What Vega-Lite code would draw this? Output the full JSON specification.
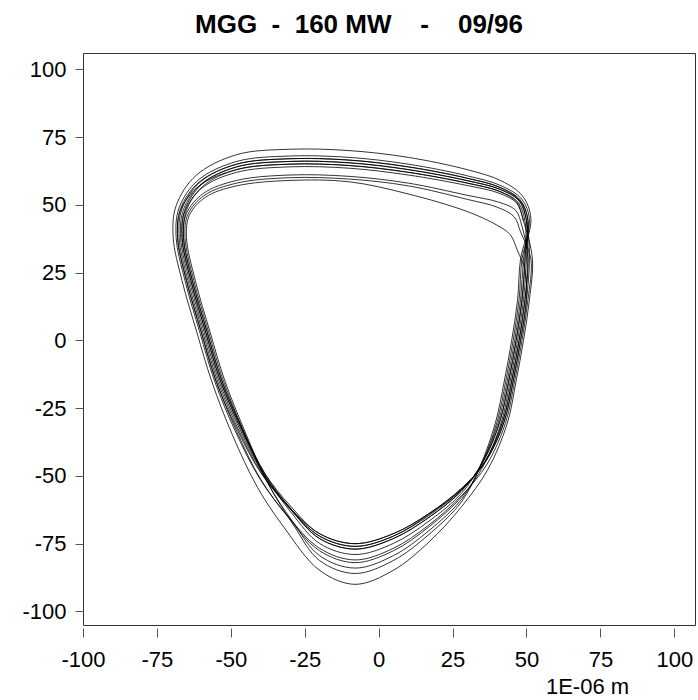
{
"$schema": "https://vega.github.io/schema/vega-lite/v6.json",
"width": 612,
"height": 572,
"autosize": {"type": "none"},
"padding": {"left": 83, "top": 53, "right": 3, "bottom": 75},
"background": "white",
"title": {"text": "MGG\u00a0\u00a0-\u00a0\u00a0160 MW\u00a0\u00a0\u00a0\u00a0-\u00a0\u00a0\u00a0\u00a009/96", "font": "Liberation Sans", "fontSize": 26, "fontWeight": "bold", "color": "black", "anchor": "middle", "dx": -30, "dy": 26, "offset": 20, "baseline": "alphabetic"},
"config": {"view": {"stroke": "#333", "strokeWidth": 1}},
"data": {"values": [
{"t":100,"x":50,"y":44.2},
{"t":102,"x":50.5,"y":30},{"t":103,"x":49.5,"y":15},{"t":104,"x":47.5,"y":0},{"t":105,"x":45,"y":-15},{"t":106,"x":42,"y":-29.9},{"t":107,"x":36,"y":-44.6},{"t":108,"x":28,"y":-55.1},{"t":109,"x":17,"y":-64.6},{"t":110,"x":5,"y":-72.2},{"t":111,"x":-8,"y":-76},{"t":112,"x":-20,"y":-72.2},{"t":113,"x":-30,"y":-61.8},{"t":114,"x":-39,"y":-49.3},{"t":115,"x":-47,"y":-32.7},{"t":116,"x":-54,"y":-15},{"t":117,"x":-59,"y":3},{"t":118,"x":-64,"y":22},{"t":119,"x":-67,"y":38},{"t":120,"x":-66,"y":48.3},{"t":121,"x":-60,"y":57.7},{"t":122,"x":-48,"y":64},{"t":123,"x":-30,"y":66},{"t":124,"x":-10,"y":65.5},{"t":125,"x":10,"y":63},{"t":126,"x":30,"y":58.9},{"t":127,"x":41,"y":55.7},{"t":128,"x":47.5,"y":51.4},{"t":129,"x":50,"y":44.15},
{"t":202,"x":51,"y":30},{"t":203,"x":50,"y":15},{"t":204,"x":48,"y":0},{"t":205,"x":45.5,"y":-15},{"t":206,"x":42.5,"y":-29.85},{"t":207,"x":36.35,"y":-44.4},{"t":208,"x":28,"y":-54.65},{"t":209,"x":17,"y":-63.9},{"t":210,"x":5,"y":-71.3},{"t":211,"x":-8,"y":-75},{"t":212,"x":-20,"y":-71.3},{"t":213,"x":-30.5,"y":-61.2},{"t":214,"x":-39.8,"y":-48.95},{"t":215,"x":-48,"y":-32.55},{"t":216,"x":-55,"y":-15},{"t":217,"x":-60,"y":3},{"t":218,"x":-65,"y":22},{"t":219,"x":-68,"y":38},{"t":220,"x":-67,"y":48.6},{"t":221,"x":-60.7,"y":58.4},{"t":222,"x":-48,"y":65},{"t":223,"x":-30,"y":67},{"t":224,"x":-10,"y":66.5},{"t":225,"x":10,"y":64},{"t":226,"x":30,"y":59.8},{"t":227,"x":41.15,"y":56.4},{"t":228,"x":47.9,"y":51.8},{"t":229,"x":50.5,"y":44.3},
{"t":302,"x":49.5,"y":30},{"t":303,"x":48.5,"y":15},{"t":304,"x":46.5,"y":0},{"t":305,"x":44,"y":-15},{"t":306,"x":41,"y":-29.95},{"t":307,"x":35.3,"y":-44.8},{"t":308,"x":28,"y":-55.55},{"t":309,"x":17,"y":-65.3},{"t":310,"x":5,"y":-73.1},{"t":311,"x":-8,"y":-77},{"t":312,"x":-20,"y":-73.1},{"t":313,"x":-29.5,"y":-62.4},{"t":314,"x":-38.2,"y":-49.65},{"t":315,"x":-46,"y":-32.85},{"t":316,"x":-53,"y":-15},{"t":317,"x":-58,"y":3},{"t":318,"x":-63,"y":22},{"t":319,"x":-66,"y":38},{"t":320,"x":-65,"y":48},{"t":321,"x":-59.3,"y":57},{"t":322,"x":-48,"y":63},{"t":323,"x":-30,"y":65},{"t":324,"x":-10,"y":64.5},{"t":325,"x":10,"y":62},{"t":326,"x":30,"y":58},{"t":327,"x":40.7,"y":55},{"t":328,"x":46.7,"y":51},{"t":329,"x":49,"y":44},
{"t":402,"x":52,"y":30},{"t":403,"x":51,"y":15},{"t":404,"x":49,"y":0},{"t":405,"x":46.5,"y":-15},{"t":406,"x":43.5,"y":-30.6},{"t":407,"x":37.05,"y":-47.4},{"t":408,"x":28,"y":-61.4},{"t":409,"x":17,"y":-74.4},{"t":410,"x":5,"y":-84.8},{"t":411,"x":-8,"y":-90},{"t":412,"x":-20,"y":-84.8},{"t":413,"x":-32,"y":-69},{"t":414,"x":-41,"y":-54.2},{"t":415,"x":-49.5,"y":-34.8},{"t":416,"x":-56.5,"y":-15},{"t":417,"x":-61.5,"y":3},{"t":418,"x":-66.5,"y":22},{"t":419,"x":-69.5,"y":38},{"t":420,"x":-68.5,"y":49.65},{"t":421,"x":-61.75,"y":60.85},{"t":422,"x":-48,"y":68.5},{"t":423,"x":-30,"y":70.5},{"t":424,"x":-10,"y":70},{"t":425,"x":10,"y":67.5},{"t":426,"x":30,"y":62.95},{"t":427,"x":41.45,"y":58.85},{"t":428,"x":48.7,"y":53.2},{"t":429,"x":51.5,"y":44.8},
{"t":502,"x":48.5,"y":30},{"t":503,"x":47.5,"y":15},{"t":504,"x":45.5,"y":0},{"t":505,"x":43,"y":-15},{"t":506,"x":40,"y":-30.3},{"t":507,"x":34.6,"y":-46.2},{"t":508,"x":28,"y":-58.7},{"t":509,"x":17,"y":-70.2},{"t":510,"x":5,"y":-79.4},{"t":511,"x":-8,"y":-84},{"t":512,"x":-20,"y":-79.4},{"t":513,"x":-29.25,"y":-66.6},{"t":514,"x":-37.8,"y":-52.1},{"t":515,"x":-45.5,"y":-33.9},{"t":516,"x":-52.5,"y":-15},{"t":517,"x":-57.5,"y":3},{"t":518,"x":-62.5,"y":22},{"t":519,"x":-65.5,"y":38},{"t":520,"x":-64.5,"y":46.5},{"t":521,"x":-58.95,"y":53.5},{"t":522,"x":-48,"y":58},{"t":523,"x":-30,"y":60},{"t":524,"x":-10,"y":59.5},{"t":525,"x":10,"y":57},{"t":526,"x":30,"y":52},{"t":527,"x":40.4,"y":49},{"t":528,"x":45.9,"y":45.5},{"t":529,"x":48,"y":40},
{"t":602,"x":51.5,"y":30},{"t":603,"x":50.5,"y":15},{"t":604,"x":48.5,"y":0},{"t":605,"x":46,"y":-15},{"t":606,"x":43,"y":-30.15},{"t":607,"x":36.7,"y":-45.6},{"t":608,"x":28,"y":-57.35},{"t":609,"x":17,"y":-68.1},{"t":610,"x":5,"y":-76.7},{"t":611,"x":-8,"y":-81},{"t":612,"x":-20,"y":-76.7},{"t":613,"x":-30.75,"y":-64.8},{"t":614,"x":-40.2,"y":-51.05},{"t":615,"x":-48.5,"y":-33.45},{"t":616,"x":-55.5,"y":-15},{"t":617,"x":-60.5,"y":3},{"t":618,"x":-65.5,"y":22},{"t":619,"x":-68.5,"y":38},{"t":620,"x":-67.5,"y":48.9},{"t":621,"x":-61.05,"y":59.1},{"t":622,"x":-48,"y":66},{"t":623,"x":-30,"y":68},{"t":624,"x":-10,"y":67.5},{"t":625,"x":10,"y":65},{"t":626,"x":30,"y":60.7},{"t":627,"x":41.3,"y":57.1},{"t":628,"x":48.3,"y":52.2},{"t":629,"x":51,"y":44.45},
{"t":702,"x":48,"y":30},{"t":703,"x":47,"y":15},{"t":704,"x":45,"y":0},{"t":705,"x":42.5,"y":-15},{"t":706,"x":39.5,"y":-30.4},{"t":707,"x":34.25,"y":-46.6},{"t":708,"x":28,"y":-59.6},{"t":709,"x":17,"y":-71.6},{"t":710,"x":5,"y":-81.2},{"t":711,"x":-8,"y":-86},{"t":712,"x":-20,"y":-81.2},{"t":713,"x":-29,"y":-67.8},{"t":714,"x":-37.4,"y":-52.8},{"t":715,"x":-45,"y":-34.2},{"t":716,"x":-52,"y":-15},{"t":717,"x":-57,"y":3},{"t":718,"x":-62,"y":22},{"t":719,"x":-65,"y":38},{"t":720,"x":-64,"y":46.2},{"t":721,"x":-58.6,"y":52.8},{"t":722,"x":-48,"y":57},{"t":723,"x":-30,"y":59},{"t":724,"x":-10,"y":58.5},{"t":725,"x":10,"y":54},{"t":726,"x":30,"y":47.5},{"t":727,"x":40,"y":42.5},{"t":728,"x":44.5,"y":39},{"t":729,"x":47,"y":33},
{"t":802,"x":49.5,"y":26},{"t":803,"x":50,"y":15},{"t":804,"x":48,"y":0},{"t":805,"x":45.5,"y":-15},{"t":806,"x":42.5,"y":-29.85},{"t":807,"x":36.35,"y":-44.4},{"t":808,"x":28,"y":-54.65},{"t":809,"x":17,"y":-63.9},{"t":810,"x":5,"y":-71.3},{"t":811,"x":-8,"y":-75},{"t":812,"x":-20,"y":-71.3},{"t":813,"x":-29.75,"y":-61.2},{"t":814,"x":-38.6,"y":-48.95},{"t":815,"x":-46.5,"y":-32.55},{"t":816,"x":-53.5,"y":-15},{"t":817,"x":-58.5,"y":3},{"t":818,"x":-63.5,"y":22},{"t":819,"x":-66.5,"y":38},{"t":820,"x":-65.5,"y":48.3},{"t":821,"x":-59.65,"y":57.7},{"t":822,"x":-48,"y":64},{"t":823,"x":-30,"y":66},{"t":824,"x":-10,"y":65.5},{"t":825,"x":10,"y":63},{"t":826,"x":30,"y":58.9},{"t":827,"x":41.15,"y":55.7},{"t":828,"x":47.9,"y":51.4},{"t":829,"x":50.5,"y":44.15},
{"t":902,"x":49,"y":30},{"t":903,"x":48,"y":15},{"t":904,"x":46,"y":0},{"t":905,"x":43.5,"y":-15},{"t":906,"x":40.5,"y":-30.05},{"t":907,"x":34.95,"y":-45.2},{"t":908,"x":28,"y":-56.45},{"t":909,"x":17,"y":-66.7},{"t":910,"x":5,"y":-74.9},{"t":911,"x":-8,"y":-79},{"t":912,"x":-20,"y":-74.9},{"t":913,"x":-29.5,"y":-63.6},{"t":914,"x":-38.2,"y":-50.35},{"t":915,"x":-46,"y":-33.15},{"t":916,"x":-53,"y":-15},{"t":917,"x":-58,"y":3},{"t":918,"x":-63,"y":22},{"t":919,"x":-66,"y":38},{"t":920,"x":-65,"y":46.8},{"t":921,"x":-59.3,"y":54.2},{"t":922,"x":-48,"y":59},{"t":923,"x":-30,"y":61},{"t":924,"x":-10,"y":60.5},{"t":925,"x":10,"y":58},{"t":926,"x":30,"y":53.5},{"t":927,"x":40.55,"y":51},{"t":928,"x":46.3,"y":48},{"t":929,"x":48.5,"y":42},
{"t":1002,"x":50.5,"y":30},{"t":1003,"x":49.5,"y":15},{"t":1004,"x":47.5,"y":0},{"t":1005,"x":45,"y":-15},{"t":1006,"x":42,"y":-29.9},{"t":1007,"x":36,"y":-44.6},{"t":1008,"x":28,"y":-55.1},{"t":1009,"x":17,"y":-64.2},{"t":1010,"x":5,"y":-72.2},{"t":1011,"x":-8,"y":-76},{"t":1012,"x":-20,"y":-72.2},{"t":1013,"x":-30.25,"y":-61.8},{"t":1014,"x":-39.4,"y":-49.3},{"t":1015,"x":-47.5,"y":-32.7},{"t":1016,"x":-54.5,"y":-15},{"t":1017,"x":-59.5,"y":3},{"t":1018,"x":-64.5,"y":22},{"t":1019,"x":-67.5,"y":38},{"t":1020,"x":-66.5,"y":48.6},{"t":1021,"x":-60.35,"y":58.4},{"t":1022,"x":-48,"y":65},{"t":1023,"x":-30,"y":67},{"t":1024,"x":-10,"y":66.5},{"t":1025,"x":10,"y":64},{"t":1026,"x":30,"y":59.8},{"t":1027,"x":41,"y":56.4},{"t":1028,"x":47.5,"y":51.8},{"t":1029,"x":50,"y":44.3},
{"t":1102,"x":50,"y":30},{"t":1103,"x":49,"y":15},{"t":1104,"x":47,"y":0},{"t":1105,"x":44.5,"y":-15},{"t":1106,"x":41.5,"y":-30.2},{"t":1107,"x":35.65,"y":-45.8},{"t":1108,"x":28,"y":-57.8},{"t":1109,"x":17,"y":-68.8},{"t":1110,"x":5,"y":-77.6},{"t":1111,"x":-8,"y":-82},{"t":1112,"x":-20,"y":-77.6},{"t":1113,"x":-30.5,"y":-65.4},{"t":1114,"x":-39.8,"y":-51.4},{"t":1115,"x":-48,"y":-33.6},{"t":1116,"x":-55,"y":-15},{"t":1117,"x":-60,"y":3},{"t":1118,"x":-65,"y":22},{"t":1119,"x":-68,"y":38},{"t":1120,"x":-67,"y":48},{"t":1121,"x":-60.7,"y":57},{"t":1122,"x":-48,"y":63},{"t":1123,"x":-30,"y":65},{"t":1124,"x":-10,"y":64.5},{"t":1125,"x":10,"y":62},{"t":1126,"x":30,"y":58},{"t":1127,"x":40.85,"y":55},{"t":1128,"x":47.1,"y":51},{"t":1129,"x":49.5,"y":44},
{"t":1202,"x":49.5,"y":30},{"t":1203,"x":48.5,"y":15},{"t":1204,"x":46.5,"y":0},{"t":1205,"x":44,"y":-15},{"t":1206,"x":41,"y":-29.95},{"t":1207,"x":35.3,"y":-44.8},{"t":1208,"x":28,"y":-55.55},{"t":1209,"x":17,"y":-65.3},{"t":1210,"x":5,"y":-73.1},{"t":1211,"x":-8,"y":-77},{"t":1212,"x":-20,"y":-73.1},{"t":1213,"x":-29.75,"y":-62.4},{"t":1214,"x":-38.6,"y":-49.65},{"t":1215,"x":-46.5,"y":-32.85},{"t":1216,"x":-53.5,"y":-15},{"t":1217,"x":-58.5,"y":3},{"t":1218,"x":-63.5,"y":22},{"t":1219,"x":-66.5,"y":38},{"t":1220,"x":-65.5,"y":47.7},{"t":1221,"x":-59.65,"y":56.3},{"t":1222,"x":-48,"y":62},{"t":1223,"x":-30,"y":64},{"t":1224,"x":-10,"y":63.5},{"t":1225,"x":10,"y":61},{"t":1226,"x":30,"y":57.1},{"t":1227,"x":40.7,"y":54.3},{"t":1228,"x":46.7,"y":50.6},{"t":1229,"x":49,"y":43.85}
]},
"mark": {"type": "line", "interpolate": "catmull-rom", "color": "black", "strokeWidth": 0.8},
"encoding": {
"x": {"field": "x", "type": "quantitative", "scale": {"domain": [-100, 107], "nice": false, "zero": false},
 "axis": {"values": [-100, -75, -50, -25, 0, 25, 50, 75, 100], "labelExpr": "replace(datum.label, '\u2212', '-')", "offset": 3, "domain": false, "grid": false, "tickSize": 9, "tickColor": "#555", "labelFont": "Liberation Sans", "labelFontSize": 22, "labelColor": "black", "labelPadding": 12, "labelFlush": false, "labelOverlap": false,
  "title": "1E-06 m", "titleFont": "Liberation Sans", "titleFontSize": 22, "titleFontWeight": "normal", "titleColor": "black", "titleX": 504, "titleY": 65, "titleAlign": "center", "titleBaseline": "alphabetic"}},
"y": {"field": "y", "type": "quantitative", "scale": {"domain": [-105, 106], "nice": false, "zero": false},
 "axis": {"values": [-100, -75, -50, -25, 0, 25, 50, 75, 100], "labelExpr": "replace(datum.label, '\u2212', '-')", "domain": false, "grid": false, "tickSize": 8, "tickColor": "#555", "labelFont": "Liberation Sans", "labelFontSize": 22, "labelColor": "black", "labelPadding": 9, "labelFlush": false, "labelOverlap": false, "title": null}},
"order": {"field": "t", "type": "quantitative"}
}
}
